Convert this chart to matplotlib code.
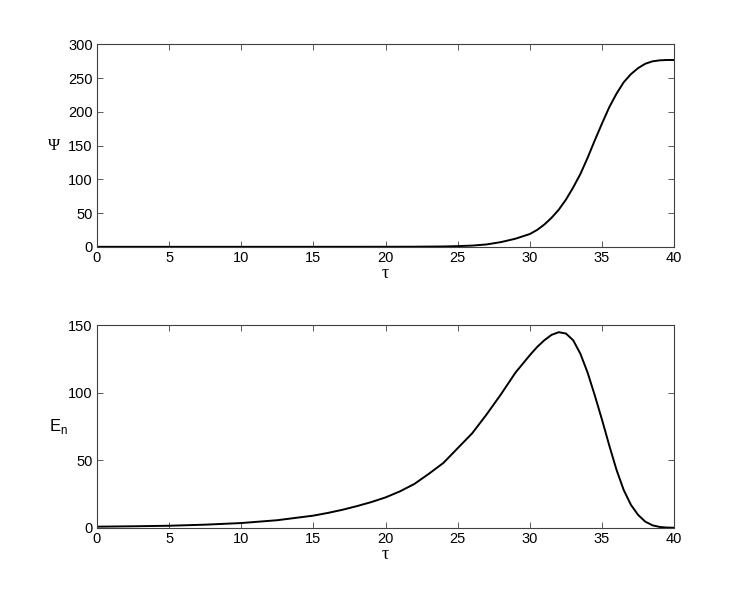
import numpy as np
import matplotlib
matplotlib.use('Agg')
from matplotlib import pyplot as plt

plt.rcParams['font.family'] = ['Liberation Sans', 'DejaVu Sans']

# values
tau_psi = [0, 5, 10, 15, 20, 22, 24, 25, 26, 27, 28, 29, 30, 30.5, 31, 31.5, 32, 32.5, 33,
           33.5, 34, 34.5, 35, 35.5, 36, 36.5, 37, 37.5, 38, 38.5, 39, 39.5, 40]
psi = [0, 0, 0, 0, 0.05, 0.15, 0.5, 1, 1.8, 3.5, 7, 12, 19, 25, 33, 43, 55, 70, 88,
       108, 132, 158, 183, 207, 227, 244, 256, 265, 271.5, 275, 276.5, 277, 277]

tau_en = [0, 2.5, 5, 7.5, 10, 12.5, 15, 16, 17, 18, 19, 20, 21, 22, 23, 24, 25, 26, 26.5,
          27, 27.5, 28, 28.5, 29, 29.5, 30, 30.5, 31, 31.5, 32, 32.5, 33, 33.5, 34, 34.5,
          35, 35.5, 36, 36.5, 37, 37.5, 38, 38.5, 39, 39.5, 40]
en = [0.8, 1.1, 1.5, 2.3, 3.5, 5.6, 9, 11, 13.3, 16, 19, 22.5, 27, 32.5, 40, 48, 59, 70, 77,
      84, 91.5, 99, 107, 115, 121.5, 128, 134, 139, 143, 145, 144, 139, 129, 115, 98,
      80, 61, 43, 28, 17, 9.5, 4.5, 1.8, 0.6, 0.15, 0]

fig = plt.figure(figsize=(7.45, 5.93), dpi=100)
ax1 = fig.add_axes([0.13, 0.5838, 0.775, 0.3412])
ax2 = fig.add_axes([0.13, 0.11, 0.775, 0.3412])

ax1.plot(tau_psi, psi, color='k', lw=1.4, solid_joinstyle='round')
ax2.plot(tau_en, en, color='k', lw=1.4, solid_joinstyle='round')

for ax in (ax1, ax2):
    ax.set_xlim(0, 40)
    ax.set_xticks(np.arange(0, 41, 5))
    ax.tick_params(direction='in', top=True, right=True, length=4, width=0.6,
                   color='#404040', labelsize=10.5, pad=3)
    for s in ax.spines.values():
        s.set_color('#404040')
        s.set_linewidth(0.8)
    ax.set_xlabel('τ', fontsize=13, family='Liberation Serif', labelpad=0)

ax1.set_ylim(0, 300)
ax1.set_yticks(np.arange(0, 301, 50))
ax1.set_ylabel('Ψ', fontsize=12, family='Liberation Serif', rotation=0,
               labelpad=10, va='center')

ax2.set_ylim(0, 150)
ax2.set_yticks([0, 50, 100, 150])
ax2.set_ylabel(r'E$_\mathregular{n}$', fontsize=12, rotation=0, labelpad=7, va='center')

fig.savefig('out.png', dpi=100)
